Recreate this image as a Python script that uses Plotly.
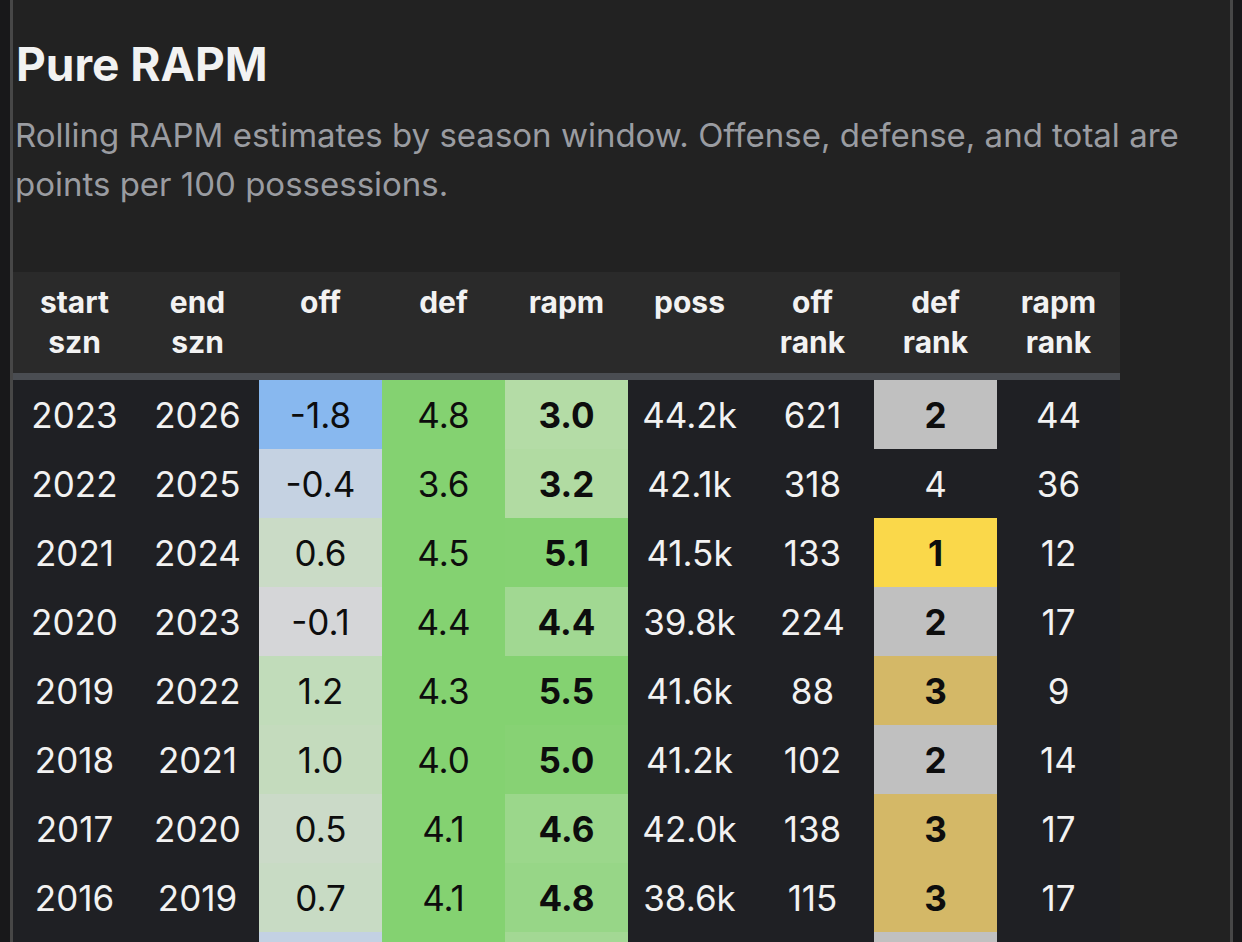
import plotly.graph_objects as go

# table values, newest window first (last row is cut off at the bottom of the screenshot)
columns_top = ["start", "end", "off", "def", "rapm", "poss", "off", "def", "rapm"]
columns_bottom = ["szn", "szn", "", "", "", "", "rank", "rank", "rank"]

start_szn = [2023, 2022, 2021, 2020, 2019, 2018, 2017, 2016, 2015]
end_szn = [2026, 2025, 2024, 2023, 2022, 2021, 2020, 2019, 2018]
off = [-1.8, -0.4, 0.6, -0.1, 1.2, 1.0, 0.5, 0.7, -0.5]
defense = [4.8, 3.6, 4.5, 4.4, 4.3, 4.0, 4.1, 4.1, 4.3]
rapm = [3.0, 3.2, 5.1, 4.4, 5.5, 5.0, 4.6, 4.8, 3.8]
poss_k = [44.2, 42.1, 41.5, 39.8, 41.6, 41.2, 42.0, 38.6, 37.5]
off_rank = [621, 318, 133, 224, 88, 102, 138, 115, 380]
def_rank = [2, 4, 1, 2, 3, 2, 3, 3, 2]
rapm_rank = [44, 36, 12, 17, 9, 14, 17, 17, 30]

title = "Pure RAPM"
subtitle = ["Rolling RAPM estimates by season window. Offense, defense, and total are",
            "points per 100 possessions."]

# cell shading
off_fill = ["#88b8ef", "#c5d2e2", "#cadbc6", "#d5d6d8", "#c1dcba",
            "#c4dbbd", "#cbdac8", "#c8dbc4", "#c3d1e3"]
def_fill = "#84d271"
rapm_fill = ["#b4dca6", "#b1dba2", "#85d272", "#a1d892", "#84d271",
             "#87d274", "#9bd78b", "#97d687", "#a3d894"]
medal_fill = {1: "#fad84a", 2: "#c0c0c0", 3: "#d4b867"}

PAGE_BG = "#222222"
BODY_BG = "#1f2024"
HEAD_BG = "#2a2a2a"
LIGHT = "#f2f2f2"
DARK = "#0d0d0d"
FONT = "Inter"

W, H = 1242, 942
TABLE_X0 = 13
COL_W = 123
HEAD_Y0, HEAD_Y1 = 272, 373
BODY_Y0 = 380
ROW_H = 69
TEXT_NUDGE = 4.5  # plotly sits text a little high in the cell

n_rows = len(start_szn)
n_cols = len(columns_top)
x_edges = [TABLE_X0 + COL_W * i for i in range(n_cols + 1)]
y_edges = [BODY_Y0 + ROW_H * j for j in range(n_rows + 1)]
x_mid = [(a + b) / 2 for a, b in zip(x_edges[:-1], x_edges[1:])]
y_mid = [(a + b) / 2 for a, b in zip(y_edges[:-1], y_edges[1:])]

# build per-cell fill + text
fills, texts, colors = [], [], []
for r in range(n_rows):
    row_fill = [BODY_BG, BODY_BG, off_fill[r], def_fill, rapm_fill[r], BODY_BG, BODY_BG,
                medal_fill.get(def_rank[r], BODY_BG), BODY_BG]
    dr = str(def_rank[r])
    if def_rank[r] in medal_fill:
        dr = "<b>" + dr + "</b>"
    row_text = [str(start_szn[r]), str(end_szn[r]), f"{off[r]:.1f}", f"{defense[r]:.1f}",
                f"<b>{rapm[r]:.1f}</b>", f"{poss_k[r]:.1f}k", str(off_rank[r]), dr, str(rapm_rank[r])]
    fills.append(row_fill)
    texts.append(row_text)
    colors.append([LIGHT if f == BODY_BG else DARK for f in row_fill])

palette = []
for row in fills:
    for f in row:
        if f not in palette:
            palette.append(f)
n_pal = len(palette)
colorscale = []
for k, c in enumerate(palette):
    colorscale.append([k / n_pal, c])
    colorscale.append([(k + 1) / n_pal, c])
z = [[palette.index(f) + 0.5 for f in row] for row in fills]

fig = go.Figure()

fig.add_trace(go.Heatmap(
    x=x_edges, y=y_edges, z=z,
    colorscale=colorscale, zmin=0, zmax=n_pal,
    showscale=False, hoverinfo="skip", xgap=0, ygap=0,
))

# only rows whose text falls inside the window get labels (last row is only a sliver)
shown = [r for r in range(n_rows) if y_mid[r] < H]
fig.add_trace(go.Scatter(
    x=[x_mid[c] for r in shown for c in range(n_cols)],
    y=[y_mid[r] + TEXT_NUDGE for r in shown for c in range(n_cols)],
    text=[texts[r][c] for r in shown for c in range(n_cols)],
    mode="text",
    textposition="middle center",
    textfont=dict(family=FONT, size=35,
                  color=[colors[r][c] for r in shown for c in range(n_cols)]),
    hoverinfo="skip", showlegend=False,
))

# header labels, two lines
fig.add_trace(go.Scatter(
    x=x_mid, y=[HEAD_Y0 + 33] * n_cols,
    text=["<b>" + t + "</b>" for t in columns_top],
    mode="text", textposition="middle center",
    textfont=dict(family=FONT, size=30, color=LIGHT),
    hoverinfo="skip", showlegend=False,
))
fig.add_trace(go.Scatter(
    x=x_mid, y=[HEAD_Y0 + 73] * n_cols,
    text=["<b>" + t + "</b>" for t in columns_bottom],
    mode="text", textposition="middle center",
    textfont=dict(family=FONT, size=30, color=LIGHT),
    hoverinfo="skip", showlegend=False,
))

shapes = [
    dict(type="rect", x0=0, x1=10, y0=0, y1=H, fillcolor="#18181a", line_width=0, layer="below"),
    dict(type="rect", x0=10, x1=13, y0=0, y1=H, fillcolor="#474747", line_width=0, layer="below"),
    dict(type="rect", x0=1230, x1=1233, y0=0, y1=H, fillcolor="#474747", line_width=0, layer="below"),
    dict(type="rect", x0=1233, x1=W, y0=0, y1=H, fillcolor="#18181a", line_width=0, layer="below"),
    dict(type="rect", x0=x_edges[0], x1=x_edges[-1], y0=HEAD_Y0, y1=HEAD_Y1,
         fillcolor=HEAD_BG, line_width=0, layer="below"),
    dict(type="rect", x0=x_edges[0], x1=x_edges[-1], y0=HEAD_Y1, y1=BODY_Y0,
         fillcolor="#4a4d52", line_width=0, layer="below"),
]

annotations = [
    dict(text="<b>" + title + "</b>", x=14, y=64, xref="x", yref="y",
         xanchor="left", yanchor="middle", showarrow=False,
         font=dict(family=FONT, size=46, color=LIGHT)),
]
for i, line in enumerate(subtitle):
    annotations.append(dict(text=line, x=13, y=135 + 49 * i, xref="x", yref="y",
                            xanchor="left", yanchor="middle", showarrow=False,
                            font=dict(family=FONT, size=33, color="#9a9ca1")))

fig.update_layout(
    width=W, height=H,
    margin=dict(l=0, r=0, t=0, b=0),
    paper_bgcolor=PAGE_BG, plot_bgcolor=PAGE_BG,
    xaxis=dict(range=[0, W], visible=False, fixedrange=True),
    yaxis=dict(range=[H, 0], visible=False, fixedrange=True),
    shapes=shapes, annotations=annotations,
    showlegend=False,
)

# drop the browser's default body margin so the figure sits at the window corner
fig.write_html("out.html", config={"displayModeBar": False},
               post_script="document.body.style.margin='0';")
